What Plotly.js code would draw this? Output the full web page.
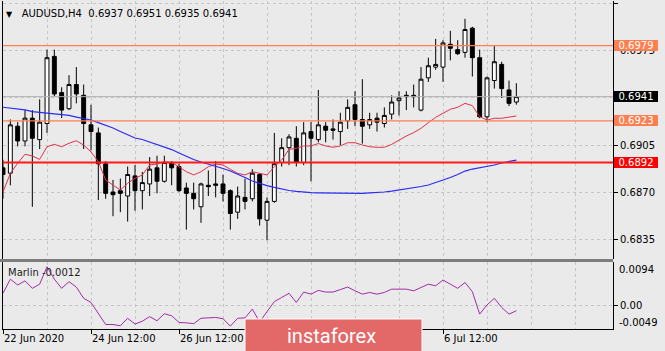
<!DOCTYPE html>
<html><head><meta charset="utf-8">
<script src="https://cdn.plot.ly/plotly-3.0.1.min.js"></script>
<style>html,body{margin:0;padding:0;background:#eaeaea;}#chart{width:665px;height:351px;}</style>
</head><body><div id="chart"></div>
<script>
// ---- data (AUDUSD H4) ----
const symbol = 'AUDUSD,H4';
const barNo = [0,1,2,3,4,5,6,7,8,9,10,11,12,13,14,15,16,17,18,19,20,21,22,23,24,25,26,27,28,29,30,31,32,33,34,35,36,37,38,39,40,41,42,43,44,45,46,47,48,49,50,51,52,53,54,55,56,57,58,59,60,61,62,63,64,65,66,67,68,69,70];
const openP  = [0.6888,0.6884,0.6919,0.6908,0.6925,0.6909,0.6921,0.6971,0.6944,0.6932,0.6950,0.6942,0.6920,0.6914,0.6891,0.6870,0.6871,0.6867,0.6882,0.6871,0.6876,0.6888,0.6878,0.6892,0.6889,0.6873,0.6869,0.6859,0.6875,0.6876,0.6876,0.6871,0.6855,0.6866,0.6865,0.6883,0.6849,0.6863,0.6892,0.6903,0.6910,0.6892,0.6915,0.6909,0.6919,0.6917,0.6915,0.6923,0.6935,0.6924,0.6920,0.6925,0.6921,0.6928,0.6938,0.6942,0.6942,0.6931,0.6955,0.6963,0.6963,0.6980,0.6976,0.6974,0.6992,0.6970,0.6926,0.6953,0.6965,0.6946,0.6937];
const highP  = [0.6894,0.6924,0.6922,0.6931,0.6931,0.6939,0.6976,0.6976,0.6948,0.6957,0.6963,0.6950,0.6935,0.6918,0.6893,0.6879,0.6880,0.6889,0.6890,0.6885,0.6896,0.6897,0.6897,0.6893,0.6891,0.6877,0.6877,0.6877,0.6886,0.6893,0.6883,0.6872,0.6874,0.6880,0.6887,0.6884,0.6866,0.6914,0.6910,0.6913,0.6919,0.6922,0.6922,0.6946,0.6922,0.6924,0.6929,0.6939,0.6945,0.6954,0.6929,0.6929,0.6933,0.6942,0.6945,0.6945,0.6950,0.6963,0.6970,0.6984,0.6983,0.6990,0.6983,0.6999,0.6993,0.6976,0.6956,0.6979,0.6967,0.6953,0.6951];
const lowP   = [0.6865,0.6875,0.6904,0.6904,0.6859,0.6902,0.6914,0.6941,0.6925,0.6931,0.6936,0.6902,0.6901,0.6864,0.6865,0.6852,0.6855,0.6848,0.6856,0.6857,0.6867,0.6869,0.6877,0.6875,0.6870,0.6842,0.6857,0.6847,0.6867,0.6866,0.6863,0.6842,0.6850,0.6857,0.6863,0.6845,0.6834,0.6862,0.6889,0.6890,0.6889,0.6890,0.6878,0.6907,0.6907,0.6909,0.6905,0.6917,0.6919,0.6906,0.6917,0.6915,0.6918,0.6924,0.6927,0.6931,0.6933,0.6930,0.6952,0.6961,0.6952,0.6968,0.6972,0.6970,0.6956,0.6925,0.6922,0.6947,0.6940,0.6934,0.6935];
const closeP = [0.6883,0.6920,0.6908,0.6925,0.6910,0.6922,0.6970,0.6943,0.6931,0.6950,0.6943,0.6921,0.6915,0.6891,0.6869,0.6868,0.6869,0.6883,0.6871,0.6877,0.6887,0.6878,0.6892,0.6888,0.6871,0.6869,0.6865,0.6876,0.6874,0.6875,0.6869,0.6854,0.6867,0.6863,0.6884,0.6850,0.6863,0.6891,0.6903,0.6911,0.6892,0.6914,0.6910,0.6920,0.6916,0.6916,0.6922,0.6933,0.6924,0.6919,0.6924,0.6922,0.6927,0.6937,0.6940,0.6941,0.6941,0.6954,0.6964,0.6965,0.6981,0.6977,0.6973,0.6991,0.6970,0.6926,0.6955,0.6967,0.6947,0.6936,0.6941];
const maFast = [0.68700,0.68839,0.68914,0.68981,0.68968,0.68943,0.69037,0.69055,0.69037,0.69063,0.69082,0.69050,0.68998,0.68926,0.68789,0.68752,0.68715,0.68765,0.68802,0.68827,0.68901,0.68908,0.68926,0.68918,0.68888,0.68851,0.68827,0.68851,0.68888,0.68908,0.68901,0.68869,0.68839,0.68827,0.68851,0.68839,0.68827,0.68888,0.68938,0.69018,0.69025,0.69043,0.69043,0.69061,0.69043,0.69033,0.69043,0.69067,0.69067,0.69050,0.69037,0.69033,0.69033,0.69055,0.69087,0.69117,0.69142,0.69174,0.69216,0.69256,0.69286,0.69316,0.69331,0.69360,0.69343,0.69261,0.69236,0.69249,0.69249,0.69256,0.69266];
const maSlow = [0.69331,0.69325,0.69318,0.69311,0.69299,0.69296,0.69288,0.69282,0.69277,0.69270,0.69258,0.69249,0.69236,0.69217,0.69199,0.69177,0.69150,0.69124,0.69102,0.69091,0.69072,0.69054,0.69035,0.69016,0.68990,0.68964,0.68942,0.68923,0.68908,0.68890,0.68875,0.68856,0.68834,0.68808,0.68782,0.68763,0.68748,0.68734,0.68722,0.68711,0.68704,0.68698,0.68695,0.68694,0.68693,0.68691,0.68690,0.68690,0.68690,0.68690,0.68693,0.68694,0.68700,0.68707,0.68715,0.68720,0.68728,0.68741,0.68752,0.68769,0.68786,0.68808,0.68830,0.68856,0.68871,0.68882,0.68888,0.68901,0.68916,0.68927,0.68938];
const marlin = [0.0030,0.0064,0.0050,0.0060,0.0042,0.0052,0.0094,0.0064,0.0042,0.0058,0.0045,0.0018,0.0008,-0.0020,-0.0045,-0.0045,-0.0048,-0.0030,-0.0044,-0.0037,-0.0026,-0.0036,-0.0019,-0.0024,-0.0040,-0.0041,-0.0043,-0.0030,-0.0029,-0.0028,-0.0031,-0.0049,-0.0030,-0.0029,-0.0008,-0.0039,-0.0014,0.0010,0.0020,0.0030,0.0008,0.0033,0.0028,0.0037,0.0033,0.0033,0.0039,0.0045,0.0036,0.0028,0.0032,0.0028,0.0032,0.0040,0.0040,0.0040,0.0036,0.0045,0.0052,0.0048,0.0062,0.0052,0.0042,0.0056,0.0034,-0.0020,0.0002,0.0018,-0.0004,-0.0020,-0.0012];
const levelPrices = [0.6979, 0.6923, 0.6892];
const lastPrice = 0.6941;
const priceTicks = [0.6835, 0.6870, 0.6905, 0.6940, 0.6975, 0.7010];
const priceTickText = ['0.6835', '0.6870', '0.6905', '', '0.6975', '0.7010'];
const timeTickBars = [0, 12, 24, 36, 48, 60];
const timeTickText = ['22 Jun 2020', '24 Jun 12:00', '26 Jun 12:00', '', '', '6 Jul 12:00'];
const gridBars = [6, 18, 30, 42, 54, 66, 72, 78];
const marlinLabels = [0.0094, -0.0049];

// ---- styles ----
const levelColors = ['#FF7F50', '#FF7F50', '#FF1A1A'];
const levelBoxColors = ['#FF7F50', '#FF7F50', '#FF0000'];
const levelWidths = [1.3, 1.3, 2];
const BG = '#eaeaea', GRID = '#c6c6c6', FONT = 'DejaVu Sans';
const last = barNo.length - 1;

const traces = [
  {type: 'candlestick', x: barNo, open: openP, high: highP, low: lowP, close: closeP,
   xaxis: 'x', yaxis: 'y', whiskerwidth: 0, hoverinfo: 'skip', showlegend: false,
   increasing: {line: {color: '#000', width: 1}, fillcolor: '#ffffff'},
   decreasing: {line: {color: '#000', width: 1}, fillcolor: '#000000'}},
  {type: 'scatter', mode: 'lines', x: barNo, y: maFast, xaxis: 'x', yaxis: 'y',
   line: {color: '#E2304E', width: 1}, hoverinfo: 'skip', showlegend: false},
  {type: 'scatter', mode: 'lines', x: barNo, y: maSlow, xaxis: 'x', yaxis: 'y',
   line: {color: '#2B2BF2', width: 1.2}, hoverinfo: 'skip', showlegend: false},
  {type: 'scatter', mode: 'lines', x: barNo, y: marlin, xaxis: 'x', yaxis: 'y2',
   line: {color: '#A22CA8', width: 1}, hoverinfo: 'skip', showlegend: false}
];

const shapes = [];
levelPrices.forEach((p, k) => shapes.push({type: 'line', xref: 'paper', x0: 0, x1: 1, yref: 'y', y0: p, y1: p,
  line: {color: levelColors[k], width: levelWidths[k]}, layer: 'above'}));
shapes.push({type: 'line', xref: 'paper', x0: 0, x1: 1, yref: 'y', y0: lastPrice, y1: lastPrice,
  line: {color: '#b0b0b0', width: 1}, layer: 'above'});
// panel separator
shapes.push({type: 'rect', xref: 'paper', yref: 'paper', x0: -0.005, x1: 1, y0: 0.2043, y1: 0.2134,
  fillcolor: '#7d7d7d', line: {width: 0}, layer: 'above'});
// watermark box
shapes.push({type: 'rect', xref: 'paper', yref: 'paper', x0: 0.3967, x1: 0.6869, y0: -0.075, y1: 0.0305,
  fillcolor: '#E36868', line: {color: '#ffffff', width: 1}, layer: 'above'});

const annotations = [];
const f4 = v => v.toFixed(4);
annotations.push({xref: 'paper', yref: 'paper', x: 0, y: 1, xanchor: 'left', yanchor: 'top', xshift: 1, yshift: -5,
  showarrow: false, font: {family: FONT, size: 10, color: '#000'},
  text: '<span style="font-size:8px">▼</span>   ' + symbol + '  ' + f4(openP[last]) + ' ' + f4(highP[last]) + ' ' + f4(lowP[last]) + ' ' + f4(closeP[last])});
levelPrices.forEach((p, k) => annotations.push({xref: 'paper', x: 1, xanchor: 'left', xshift: 1, yref: 'y', y: p, yanchor: 'middle',
  text: f4(p), showarrow: false, bgcolor: levelBoxColors[k], width: 44, height: 11, borderpad: 0, borderwidth: 0,
  font: {family: FONT, size: 10, color: '#ffffff'}}));
annotations.push({xref: 'paper', x: 1, xanchor: 'left', xshift: 1, yref: 'y', y: lastPrice, yanchor: 'middle',
  text: f4(lastPrice), showarrow: false, bgcolor: '#000000', width: 44, height: 11, borderpad: 0, borderwidth: 0,
  font: {family: FONT, size: 10, color: '#ffffff'}});
annotations.push({xref: 'paper', x: 1, xanchor: 'left', xshift: 4, yref: 'y2', y: marlinLabels[0], yanchor: 'middle', yshift: -3,
  text: f4(marlinLabels[0]), showarrow: false, font: {family: FONT, size: 10, color: '#000'}});
annotations.push({xref: 'paper', x: 1, xanchor: 'left', xshift: 4, yref: 'y2', y: marlinLabels[1], yanchor: 'middle', yshift: 4,
  text: f4(marlinLabels[1]), showarrow: false, font: {family: FONT, size: 10, color: '#000'}});
annotations.push({xref: 'paper', yref: 'paper', x: 0, y: 0.2043, xanchor: 'left', yanchor: 'top', xshift: 3, yshift: -3,
  text: 'Marlin ' + f4(marlin[last]), showarrow: false, font: {family: FONT, size: 10, color: '#222'}});
annotations.push({xref: 'paper', yref: 'paper', x: 0.5393, y: -0.021, xanchor: 'center', yanchor: 'middle',
  text: 'instaforex', showarrow: false, font: {family: 'Roboto', size: 20, color: '#ffffff'}});

const layout = {
  width: 665, height: 351, margin: {l: 3, r: 52, t: 1, b: 22},
  paper_bgcolor: BG, plot_bgcolor: BG, font: {family: FONT, size: 10, color: '#000'},
  showlegend: false, hovermode: false, boxgap: 0.27, boxgroupgap: 0.27,
  xaxis: {anchor: 'y2', range: [0, 83.18], rangeslider: {visible: false}, zeroline: false,
    showline: true, linecolor: '#000', linewidth: 1,
    tickmode: 'array', tickvals: timeTickBars, ticktext: timeTickText, ticks: 'outside', ticklen: 4, tickcolor: '#000',
    ticklabelposition: 'outside right', tickfont: {family: FONT, size: 10, color: '#000'},
    showgrid: true, gridcolor: GRID, griddash: '3px,3px', gridwidth: 1,
    minor: {tickmode: 'array', tickvals: gridBars, showgrid: true, gridcolor: GRID, griddash: '3px,3px', ticks: ''}},
  yaxis: {domain: [0.2134, 1], anchor: 'x', side: 'right', range: [0.682011, 0.701222], zeroline: false,
    tickmode: 'array', tickvals: priceTicks, ticktext: priceTickText, ticks: 'outside', ticklen: 4, tickcolor: '#000',
    tickfont: {family: FONT, size: 10, color: '#000'},
    showgrid: true, gridcolor: GRID, griddash: '3px,3px',
    showline: true, linecolor: '#000', linewidth: 1, mirror: true},
  yaxis2: {domain: [0, 0.2043], anchor: 'x', side: 'right', range: [-0.00558, 0.01053], zeroline: false,
    tickmode: 'array', tickvals: [0], ticktext: ['0.00'], ticks: 'outside', ticklen: 4, tickcolor: '#000',
    tickfont: {family: FONT, size: 10, color: '#000'},
    showgrid: true, gridcolor: GRID, griddash: '3px,3px',
    showline: true, linecolor: '#000', linewidth: 1, mirror: true},
  shapes: shapes, annotations: annotations
};

Plotly.newPlot('chart', traces, layout, {displayModeBar: false, staticPlot: true});
</script>
</body></html>
